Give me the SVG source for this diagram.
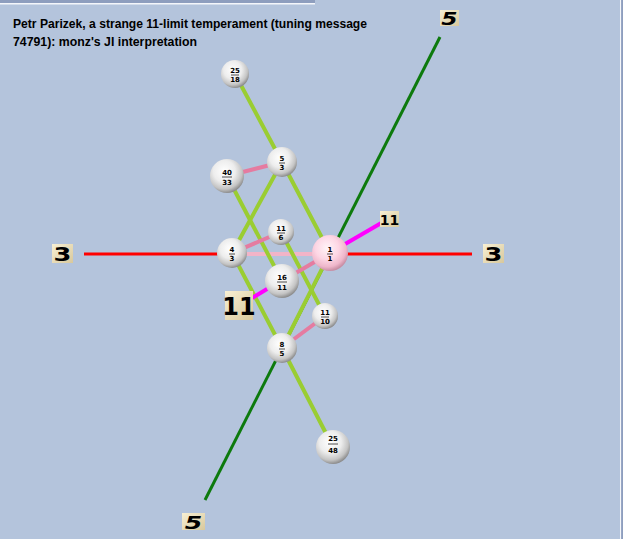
<svg xmlns="http://www.w3.org/2000/svg" width="623" height="539" viewBox="0 0 623 539">
<defs>
<radialGradient id="ball" cx="0.42" cy="0.36" r="0.64">
<stop offset="0" stop-color="#ffffff"/>
<stop offset="0.5" stop-color="#ededed"/>
<stop offset="0.82" stop-color="#c4c4c4"/>
<stop offset="1" stop-color="#8e8e8e"/>
</radialGradient>
<radialGradient id="ballPink" cx="0.42" cy="0.36" r="0.64">
<stop offset="0" stop-color="#fff4f8"/>
<stop offset="0.5" stop-color="#fdd6e4"/>
<stop offset="0.82" stop-color="#eeb6ca"/>
<stop offset="1" stop-color="#c88ea4"/>
</radialGradient>
<linearGradient id="tag" x1="0" y1="0" x2="1" y2="1">
<stop offset="0" stop-color="#f8f0d4"/>
<stop offset="1" stop-color="#d8c89c"/>
</linearGradient>
<style>
.title{font-family:"Liberation Sans",Arial,sans-serif;font-weight:bold;font-size:12.5px;fill:#000}
.yg{stroke:#9acd32;stroke-width:4;stroke-linecap:round}
.p11{stroke:#e57ba0;stroke-width:4}
.mag{stroke:#ff00ff;stroke-width:4}
.red{stroke:#ff0000;stroke-width:3}
.g5{stroke:#0d7a0d;stroke-width:3}
.pl{stroke:#f2b4c8;stroke-width:4}
.lbl{font-family:"DejaVu Sans",sans-serif;font-weight:bold;fill:#000;text-anchor:middle}
.num{font-family:"DejaVu Sans",sans-serif;font-weight:bold;font-size:7px;fill:#000;text-anchor:middle}
.bar{stroke:#222;stroke-width:0.8}
.tagbox{fill:url(#tag)}
</style>
</defs>
<rect x="0" y="0" width="623" height="539" fill="#b4c4dc"/>
<rect x="0" y="0" width="315" height="3" fill="#8e9ebe"/>
<rect x="0" y="3" width="315" height="1.5" fill="#f4f6fa"/>
<rect x="620" y="0" width="1.2" height="539" fill="#f4f6fa"/>
<rect x="621.2" y="0" width="1.8" height="539" fill="#8e9ebe"/>

<text class="title" x="13" y="28" textLength="354" lengthAdjust="spacingAndGlyphs">Petr Parizek, a strange 11-limit temperament (tuning message</text>
<text class="title" x="13" y="46" textLength="184" lengthAdjust="spacingAndGlyphs">74791): monz's JI interpretation</text>

<g id="connectors">
<line class="g5" x1="440" y1="37" x2="205" y2="500"/>
<line class="red" x1="84" y1="254" x2="472" y2="254"/>
<line class="pl" x1="232" y1="254" x2="330" y2="254"/>
<line class="yg" x1="235" y1="74" x2="282" y2="162"/>
<line class="yg" x1="282" y1="162" x2="232" y2="253"/>
<line class="yg" x1="282" y1="162" x2="330" y2="253"/>
<line class="yg" x1="227" y1="176" x2="282" y2="281"/>
<line class="yg" x1="281" y1="232" x2="325" y2="316"/>
<line class="yg" x1="232" y1="253" x2="282" y2="348"/>
<line class="yg" x1="330" y1="253" x2="282" y2="348"/>
<line class="yg" x1="282" y1="348" x2="333" y2="447"/>
<line class="p11" x1="282" y1="162" x2="227" y2="176"/>
<line class="p11" x1="232" y1="253" x2="281" y2="232"/>
<line class="p11" x1="330" y1="253" x2="282" y2="281"/>
<line class="p11" x1="282" y1="348" x2="325" y2="316"/>
<line class="mag" x1="340" y1="247" x2="383" y2="222"/>
<line class="mag" x1="272" y1="286" x2="252" y2="298"/>
</g>

<g id="axis-5-top"><rect class="tagbox" x="440" y="10" width="19" height="16"/><text class="lbl" x="449.5" y="25" font-size="18" font-style="italic" transform="translate(449.5 0) scale(1.3 1) translate(-449.5 0)">5</text></g>
<g id="axis-3-left"><rect class="tagbox" x="52" y="244" width="21" height="19"/><text class="lbl" x="62.5" y="261" font-size="19" transform="translate(62.5 0) scale(1.35 1) translate(-62.5 0)">3</text></g>
<g id="axis-3-right"><rect class="tagbox" x="483" y="244" width="21" height="19"/><text class="lbl" x="493.5" y="261" font-size="19" transform="translate(493.5 0) scale(1.35 1) translate(-493.5 0)">3</text></g>
<g id="axis-5-bottom"><rect class="tagbox" x="182" y="513" width="23" height="17"/><text class="lbl" x="193.5" y="529" font-size="18" font-style="italic" transform="translate(193.5 0) scale(1.4 1) translate(-193.5 0)">5</text></g>
<g id="axis-11-lower"><rect class="tagbox" x="225" y="291" width="28" height="29"/><text class="lbl" x="239" y="315" font-size="24">11</text></g>
<g id="axis-11-upper"><rect class="tagbox" x="380" y="211" width="19" height="16"/><text class="lbl" x="389.5" y="225" font-size="14">11</text></g>

<g id="n-25-18"><circle cx="235" cy="74" r="14" fill="url(#ball)"/><text class="num" x="235" y="73">25</text><line class="bar" x1="231" y1="75" x2="239" y2="75"/><text class="num" x="235" y="82">18</text></g>
<g id="n-5-3"><circle cx="282" cy="162" r="15" fill="url(#ball)"/><text class="num" x="282" y="161">5</text><line class="bar" x1="279" y1="163" x2="285" y2="163"/><text class="num" x="282" y="170">3</text></g>
<g id="n-40-33"><circle cx="227" cy="176" r="17" fill="url(#ball)"/><text class="num" x="227" y="175">40</text><line class="bar" x1="222" y1="177" x2="232" y2="177"/><text class="num" x="227" y="185">33</text></g>
<g id="n-11-6"><circle cx="281" cy="232" r="13" fill="url(#ball)"/><text class="num" x="281" y="231">11</text><line class="bar" x1="277" y1="233" x2="285" y2="233"/><text class="num" x="281" y="240">6</text></g>
<g id="n-4-3"><circle cx="232" cy="253" r="15" fill="url(#ball)"/><text class="num" x="232" y="252">4</text><line class="bar" x1="229" y1="254" x2="235" y2="254"/><text class="num" x="232" y="261">3</text></g>
<g id="n-1-1"><circle cx="330" cy="253" r="18" fill="url(#ballPink)"/><text class="num" x="330" y="252">1</text><line class="bar" x1="327" y1="254" x2="333" y2="254"/><text class="num" x="330" y="261">1</text></g>
<g id="n-16-11"><circle cx="282" cy="281" r="17" fill="url(#ball)"/><text class="num" x="282" y="280">16</text><line class="bar" x1="277" y1="282" x2="287" y2="282"/><text class="num" x="282" y="290">11</text></g>
<g id="n-11-10"><circle cx="325" cy="316" r="13" fill="url(#ball)"/><text class="num" x="325" y="315">11</text><line class="bar" x1="321" y1="317" x2="329" y2="317"/><text class="num" x="325" y="324">10</text></g>
<g id="n-8-5"><circle cx="282" cy="348" r="15" fill="url(#ball)"/><text class="num" x="282" y="347">8</text><line class="bar" x1="279" y1="349" x2="285" y2="349"/><text class="num" x="282" y="356">5</text></g>
<g id="n-48-25"><circle cx="333" cy="447" r="17" fill="url(#ball)"/><text class="num" x="333" y="441">25</text><line class="bar" x1="328" y1="444" x2="338" y2="444"/><text class="num" x="333" y="453">48</text></g>
</svg>
